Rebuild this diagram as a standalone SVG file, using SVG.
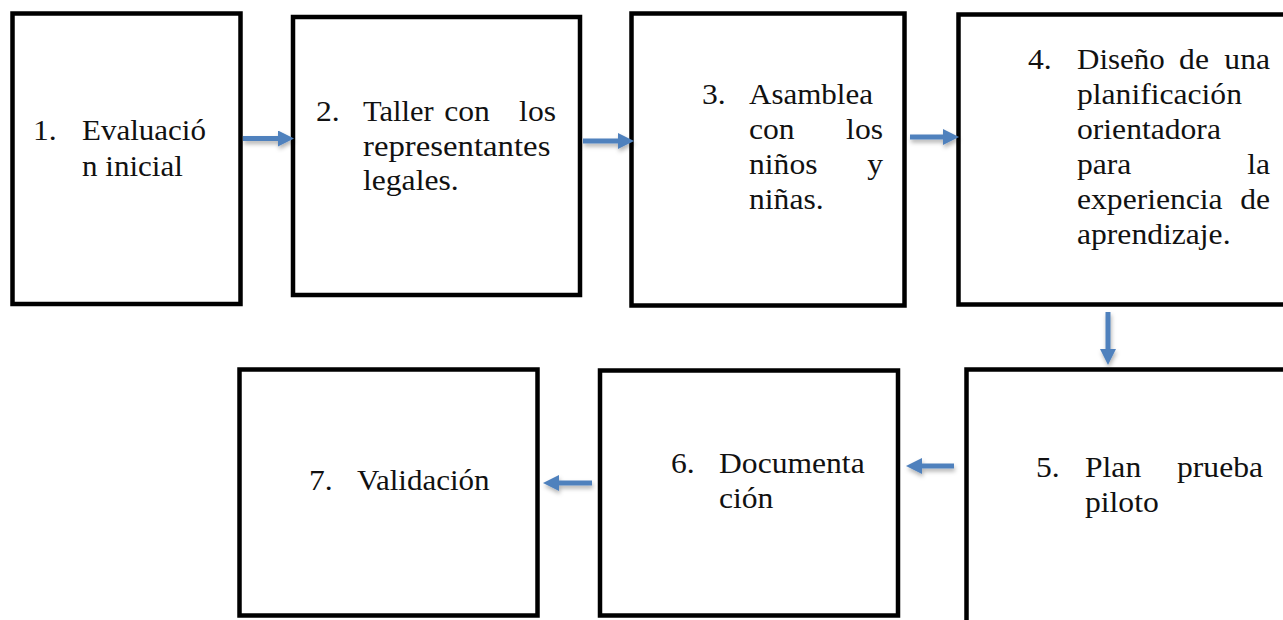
<svg xmlns="http://www.w3.org/2000/svg" width="1283" height="620" viewBox="0 0 1283 620">
  <style>
    .box { fill: #ffffff; stroke: #000000; stroke-width: 4.5; }
    text { font-family: "Liberation Serif", "Times New Roman", serif; font-size: 29px; fill: #111111; }
    .e { text-anchor: end; }
    .m { text-anchor: middle; }
    .conn { stroke: #4f81bd; stroke-width: 5; fill: none; marker-end: url(#ah); }
  </style>
  <defs>
    <marker id="ah" markerUnits="userSpaceOnUse" markerWidth="16" markerHeight="16" refX="0" refY="8" orient="auto">
      <path d="M0,0 L16,8 L0,16 z" fill="#4f81bd"/>
    </marker>
    <filter id="sh" x="-20%" y="-50%" width="140%" height="200%">
      <feDropShadow dx="1" dy="3" stdDeviation="2" flood-color="#000000" flood-opacity="0.3"/>
    </filter>
  </defs>
  <rect width="1283" height="620" fill="#ffffff"/>

  <g id="node1">
    <rect class="box" x="12.5" y="13.5" width="228" height="290.5"/>
    <text transform="translate(33,140) scale(1.09,1)">1.</text>
    <text transform="translate(82,140) scale(1.07,1)">Evaluació</text>
    <text transform="translate(82,176) scale(1.07,1)">n inicial</text>
  </g>

  <g id="node2">
    <rect class="box" x="293" y="17" width="287" height="278"/>
    <text transform="translate(316,121) scale(1.09,1)">2.</text>
    <text transform="translate(363,121) scale(1.05,1)">Taller</text>
    <text class="m" transform="translate(467,121) scale(1.09,1)">con</text>
    <text class="e" transform="translate(556,121) scale(1.09,1)">los</text>
    <text transform="translate(363,155.5) scale(1.13,1)">representantes</text>
    <text transform="translate(363,190) scale(1.09,1)">legales.</text>
  </g>

  <g id="node3">
    <rect class="box" x="631.5" y="13.5" width="273" height="292"/>
    <text transform="translate(702,104) scale(1.09,1)">3.</text>
    <text transform="translate(749,104) scale(1.07,1)">Asamblea</text>
    <text transform="translate(749,139) scale(1.09,1)">con</text>
    <text class="e" transform="translate(883,139) scale(1.09,1)">los</text>
    <text transform="translate(749,174) scale(1.09,1)">niños</text>
    <text class="e" transform="translate(883,174) scale(1.09,1)">y</text>
    <text transform="translate(749,209) scale(1.09,1)">niñas.</text>
  </g>

  <g id="node4">
    <rect class="box" x="958.5" y="14.5" width="340" height="290"/>
    <text transform="translate(1028,69) scale(1.09,1)">4.</text>
    <text transform="translate(1077,69) scale(1.07,1)">Diseño</text>
    <text class="m" transform="translate(1194,69) scale(1.09,1)">de</text>
    <text class="e" transform="translate(1270,69) scale(1.09,1)">una</text>
    <text transform="translate(1077,104) scale(1.09,1)">planificación</text>
    <text transform="translate(1077,139) scale(1.09,1)">orientadora</text>
    <text transform="translate(1077,174) scale(1.09,1)">para</text>
    <text class="e" transform="translate(1270,174) scale(1.09,1)">la</text>
    <text transform="translate(1077,209) scale(1.09,1)">experiencia</text>
    <text class="e" transform="translate(1270,209) scale(1.09,1)">de</text>
    <text transform="translate(1077,244) scale(1.09,1)">aprendizaje.</text>
  </g>

  <g id="node5">
    <rect class="box" x="966.5" y="369.5" width="340" height="270"/>
    <text transform="translate(1036,477) scale(1.09,1)">5.</text>
    <text transform="translate(1085,477) scale(1.09,1)">Plan</text>
    <text class="e" transform="translate(1263,477) scale(1.09,1)">prueba</text>
    <text transform="translate(1085,512) scale(1.09,1)">piloto</text>
  </g>

  <g id="node6">
    <rect class="box" x="600" y="370.5" width="298" height="245"/>
    <text transform="translate(671,473) scale(1.09,1)">6.</text>
    <text transform="translate(719,473) scale(1.09,1)">Documenta</text>
    <text transform="translate(719,508) scale(1.09,1)">ción</text>
  </g>

  <g id="node7">
    <rect class="box" x="239.5" y="369.5" width="298" height="246"/>
    <text transform="translate(309,490) scale(1.09,1)">7.</text>
    <text transform="translate(357,490) scale(1.07,1)">Validación</text>
  </g>

  <g id="connectors" filter="url(#sh)">
    <line class="conn" x1="243" y1="138.5" x2="278" y2="138.5"/>
    <line class="conn" x1="583" y1="141" x2="618" y2="141"/>
    <line class="conn" x1="910" y1="137" x2="943" y2="137"/>
    <line class="conn" x1="1108" y1="312" x2="1108" y2="349"/>
    <line class="conn" x1="954" y1="466" x2="922" y2="466"/>
    <line class="conn" x1="592" y1="483" x2="559" y2="483"/>
  </g>
</svg>
